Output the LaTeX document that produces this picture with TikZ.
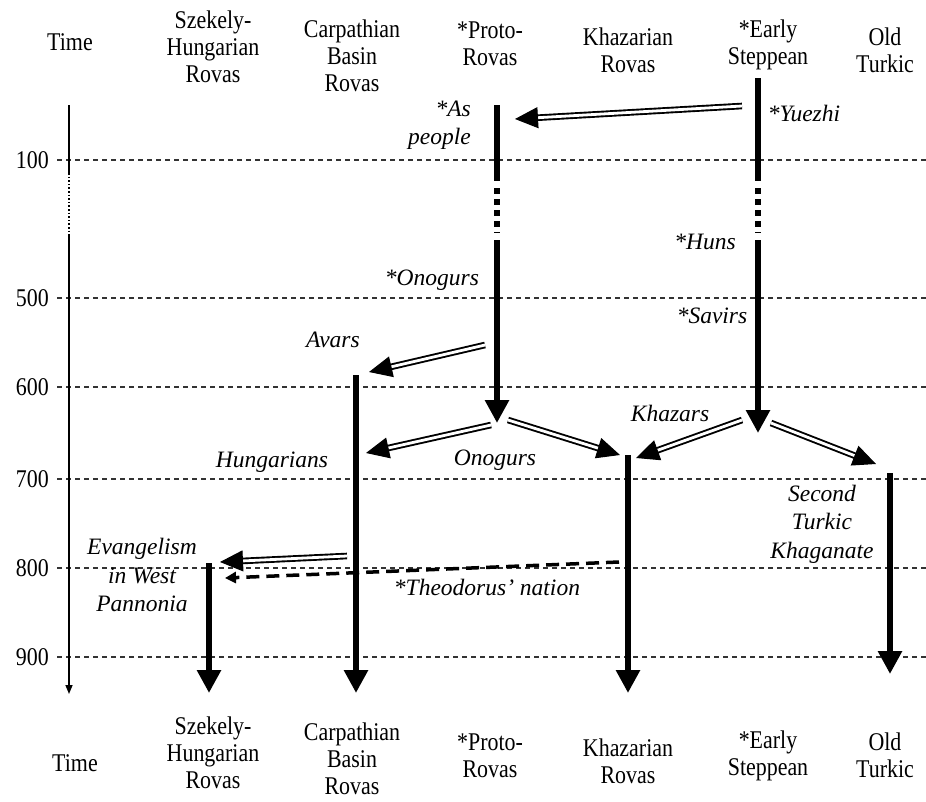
\documentclass[tikz,border=0pt]{standalone}
\usepackage{fontspec}
\setmainfont{Liberation Serif}
\newfontfamily\regfont[FakeStretch=0.86]{Liberation Serif}
\usetikzlibrary{arrows.meta,calc}
\begin{document}
\begin{tikzpicture}[x=1pt,y=-1pt,
  reg/.style={font=\regfont\fontsize{25.5}{27}\selectfont, align=center, inner sep=0pt},
  lab/.style={font=\fontsize{23.5}{28.5}\itshape\selectfont, align=center, inner sep=0pt},
  gridline/.style={line width=1.1pt, dash pattern=on 5pt off 4pt, black!80},
  stem/.style={line width=6.5pt, -{Triangle[length=23pt,width=23pt]}},
  bar/.style={line width=6.5pt},
  sqdots/.style={line width=6.5pt, dash pattern=on 6pt off 5pt},
  axis/.style={line width=1.4pt},
  dbl/.style={double=white, double distance=2.8pt, line width=1.9pt},
  dblhead/.style={line width=1pt, -{Triangle[length=23pt,width=21pt]}},
  theo/.style={line width=3.5pt, dash pattern=on 13pt off 7pt},
  theohead/.style={line width=3pt, -{Triangle[length=11pt,width=11pt]}},
]
\useasboundingbox (0,0) rectangle (926,801);

% headers (top)
\node[reg] (tTime) at (70,42) {Time};
\node[reg] (tSz) at (213,47) {Szekely-\\Hungarian\\Rovas};
\node[reg] (tCa) at (352,56) {Carpathian\\Basin\\Rovas};
\node[reg] (tPr) at (490,44) {*Proto-\\Rovas};
\node[reg] (tKh) at (628,50) {Khazarian\\Rovas};
\node[reg] (tEa) at (768,45) {*Early\\Steppean};
\node[reg] (tOl) at (885,50) {Old\\Turkic};
% headers (bottom)
\node[reg] (bTime) at (75,763) {Time};
\node[reg] (bSz) at (213,753) {Szekely-\\Hungarian\\Rovas};
\node[reg] (bCa) at (352,759) {Carpathian\\Basin\\Rovas};
\node[reg] (bPr) at (490,756) {*Proto-\\Rovas};
\node[reg] (bKh) at (628,761) {Khazarian\\Rovas};
\node[reg] (bEa) at (768,756) {*Early\\Steppean};
\node[reg] (bOl) at (885,755) {Old\\Turkic};

% year labels and grid
\foreach \yr/\yy in {100/160,500/298,600/387,700/479,800/568,900/657}{
  \node[reg, anchor=east] (y\yr) at (49,\yy) {\yr};
  \draw[gridline] (57,\yy) -- (926,\yy);
}

% time axis
\coordinate (ta0) at (69,105);
\coordinate (ta1) at (69,173);
\coordinate (ta2) at (69,235);
\coordinate (ta3) at (69,694);
\draw[axis] (ta0) -- (ta1);
\draw[line width=1.6pt, dash pattern=on 1.6pt off 2pt] (ta1) -- (ta2);
\draw[axis, -{Triangle[length=9pt,width=7pt]}] (ta2) -- (ta3);

% Proto-Rovas
\coordinate (pr0) at (497,105);
\coordinate (pr1) at (497,181);
\coordinate (pr2) at (497,188);
\coordinate (pr3) at (497,233);
\coordinate (pr4) at (497,240);
\coordinate (pr5) at (497,423);
\draw[bar] (pr0) -- (pr1);
\draw[sqdots] (pr2) -- (pr3);
\draw[stem] (pr4) -- (pr5);

% Early Steppean
\coordinate (es0) at (758,78);
\coordinate (es1) at (758,181);
\coordinate (es2) at (758,188);
\coordinate (es3) at (758,233);
\coordinate (es4) at (758,240);
\coordinate (es5) at (758,433);
\draw[bar] (es0) -- (es1);
\draw[sqdots] (es2) -- (es3);
\draw[stem] (es4) -- (es5);

% other stems
\coordinate (ca0) at (356,375);  \coordinate (ca1) at (356,693);
\coordinate (kh0) at (628,455);  \coordinate (kh1) at (628,693);
\coordinate (ot0) at (890,473);  \coordinate (ot1) at (890,674);
\coordinate (sz0) at (209,563);  \coordinate (sz1) at (209,693);
\draw[stem] (ca0) -- (ca1);
\draw[stem] (kh0) -- (kh1);
\draw[stem] (ot0) -- (ot1);
\draw[stem] (sz0) -- (sz1);

% double arrows
\foreach \a/\b/\ax/\ay/\bx/\by in {
  yA/yB/742/106/515/119,
  aA/aB/485/345/369/372,
  hA/hB/491/425/366/453,
  oA/oB/508/420/620/455,
  kA/kB/742/420/636/458,
  sA/sB/771/423/876/464,
  eA/eB/347/556/220/562}{
  \coordinate (\a) at (\ax,\ay);
  \coordinate (\b) at (\bx,\by);
  \draw[dbl, shorten >=17pt] (\a) -- (\b);
  \draw[dblhead] ($(\b)!18pt!(\a)$) -- (\b);
}

% Theodorus dashed arrow
\coordinate (thA) at (619,562);
\coordinate (thB) at (225,578);
\draw[theo, shorten >=9pt] (thA) -- (thB);
\draw[theohead] ($(thB)!12pt!(thA)$) -- (thB);

% italic labels
\node[lab, anchor=east, align=right] (lAs) at (471,125) {*As\\people};
\node[lab] (lYu) at (804,113) {*Yuezhi};
\node[lab] (lHu) at (705,242) {*Huns};
\node[lab] (lSa) at (712,316) {*Savirs};
\node[lab] (lOn1) at (432,280) {*Onogurs};
\node[lab] (lAv) at (333,340) {Avars};
\node[lab] (lKz) at (670,413) {Khazars};
\node[lab] (lHg) at (272,462) {Hungarians};
\node[lab] (lOn2) at (495,460) {Onogurs};
\node[lab] (lST) at (822,524) {Second\\Turkic\\Khaganate};
\node[lab] (lEv) at (142,575) {Evangelism\\in West\\Pannonia};
\node[lab] (lTh) at (487,587) {*Theodorus' nation};
\end{tikzpicture}
\end{document}
